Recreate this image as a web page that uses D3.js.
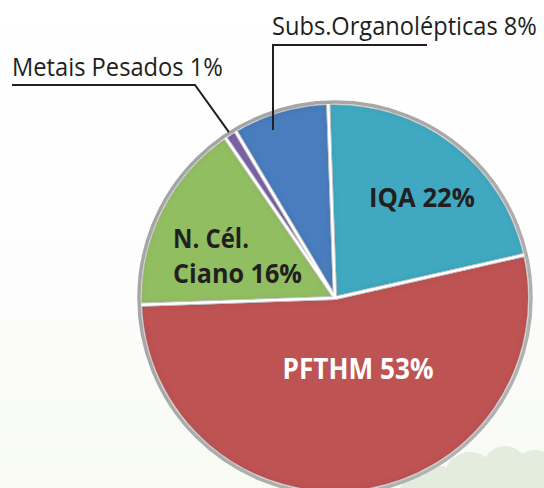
<!DOCTYPE html>
<html>
<head>
<meta charset="utf-8">
<script src="https://cdn.jsdelivr.net/npm/d3@7"></script>
<style>
  body { margin: 0; background: #fff; }
  svg { display: block; }
</style>
</head>
<body>
<svg width="544" height="488"></svg>
<script>
// data
const categories = ["IQA", "PFTHM", "N. Cél. Ciano", "Metais Pesados", "Subs.Organolépticas"]
const percents = [22, 53, 16, 1, 8]
const colours = ["#40a9c1", "#be5352", "#92be62", "#7a63a9", "#4a7dbd"]
const labelLines = [["IQA 22%"], ["PFTHM 53%"], ["N. Cél.", "Ciano 16%"], ["Metais Pesados 1%"], ["Subs.Organolépticas 8%"]]

const svg = d3.select("svg")
const W = 544, H = 488
const cx = 335, cy = 298, R = 195

const defs = svg.append("defs")

// background wash
const bg = defs.append("linearGradient").attr("id", "bg").attr("x1", 0).attr("y1", 0).attr("x2", 0).attr("y2", 1)
bg.append("stop").attr("offset", "0%").attr("stop-color", "#ffffff")
bg.append("stop").attr("offset", "60%").attr("stop-color", "#fcfdfc")
bg.append("stop").attr("offset", "100%").attr("stop-color", "#f8faf3")
svg.append("rect").attr("width", W).attr("height", H).attr("fill", "url(#bg)")

// bushes in the bottom right corner (decoration)
const bush = [[470, 478, 26], [505, 468, 22], [535, 474, 24], [440, 486, 20], [488, 492, 24], [418, 492, 18], [520, 490, 20]]
svg.append("g").selectAll("circle").data(bush).enter()
    .append("circle")
    .attr("cx", d => d[0]).attr("cy", d => d[1]).attr("r", d => d[2])
    .attr("fill", "#e3ecdd")

// inner shadow for the slices
const f = defs.append("filter").attr("id", "inner").attr("x", "-10%").attr("y", "-10%").attr("width", "120%").attr("height", "120%")
f.append("feFlood").attr("flood-color", "#000").attr("flood-opacity", 0.3).attr("result", "fl")
f.append("feComposite").attr("in", "fl").attr("in2", "SourceAlpha").attr("operator", "out").attr("result", "outside")
f.append("feGaussianBlur").attr("in", "outside").attr("stdDeviation", 3).attr("result", "blur")
f.append("feComposite").attr("in", "blur").attr("in2", "SourceAlpha").attr("operator", "in").attr("result", "shadow")
const m = f.append("feMerge")
m.append("feMergeNode").attr("in", "SourceGraphic")
m.append("feMergeNode").attr("in", "shadow")

const rim = defs.append("linearGradient").attr("id", "rim").attr("x1", 0).attr("y1", 0).attr("x2", 1).attr("y2", 1)
rim.append("stop").attr("offset", "0%").attr("stop-color", "#a2a2a2")
rim.append("stop").attr("offset", "100%").attr("stop-color", "#b4b4b4")

const pie = d3.pie().sort(null).startAngle(-2 * Math.PI / 180).endAngle(358 * Math.PI / 180).value(d => d)
const arcs = pie(percents)
const arc = d3.arc().innerRadius(0).outerRadius(R)

const g = svg.append("g").attr("transform", `translate(${cx},${cy})`)

g.selectAll("path.slice")
    .data(arcs).enter()
    .append("path")
    .attr("class", "slice")
    .attr("d", arc)
    .attr("fill", (d, i) => colours[i])
    .attr("filter", "url(#inner)")

// gaps between slices: grey edge with white core
g.selectAll("path.edge")
    .data(arcs).enter()
    .append("path")
    .attr("class", "edge")
    .attr("d", arc)
    .attr("fill", "none")
    .attr("stroke", "#c4c4c4")
    .attr("stroke-width", 4)
    .attr("stroke-linejoin", "round")
g.selectAll("path.gap")
    .data(arcs).enter()
    .append("path")
    .attr("class", "gap")
    .attr("d", arc)
    .attr("fill", "none")
    .attr("stroke", "#ffffff")
    .attr("stroke-width", 2)
    .attr("stroke-linejoin", "round")

// outer grey rim
g.append("circle").attr("r", R + 1).attr("fill", "none")
    .attr("stroke", "url(#rim)").attr("stroke-width", 3.5)

// squeeze a text horizontally so it spans the wanted width
function fitText(sel, x, y, width, anchor) {
    const natural = sel.node().getComputedTextLength()
    const sx = width / natural
    const ox = anchor === "middle" ? x : x + 0
    sel.attr("x", 0).attr("y", 0)
        .attr("transform", `translate(${ox},${y}) scale(${sx},1)`)
}

// labels inside the slices
const inside = [
    { i: 0, x: 422, y: 207, anchor: "middle", fill: "#231f20", size: 27, len: [106] },
    { i: 1, x: 358, y: 379, anchor: "middle", fill: "#ffffff", size: 28, len: [151] },
    { i: 2, x: 173, y: 248, anchor: "start", fill: "#231f20", size: 27, len: [76, 129], dy: 35 }
]
inside.forEach(l => {
    labelLines[l.i].forEach((t, k) => {
        const txt = svg.append("text")
            .attr("text-anchor", l.anchor)
            .attr("font-family", "'Open Sans', sans-serif")
            .attr("font-weight", "bold")
            .attr("font-size", l.size)
            .attr("fill", l.fill)
            .text(t)
        fitText(txt, l.x, l.y + k * (l.dy || 0), l.len[k], l.anchor)
    })
})

// outside labels with leader lines
const outside = [
    { i: 3, x: 12, y: 76, len: 211, lineY: 85, lineEnd: 195, frac: 0.5, rad: 1.01 },
    { i: 4, x: 272, y: 35, len: 265, lineY: 45, lineEnd: 427, frac: 0.36, rad: 0.92, vertical: true }
]
outside.forEach(l => {
    const a = arcs[l.i]
    const ang = a.startAngle + (a.endAngle - a.startAngle) * l.frac
    const px = cx + Math.sin(ang) * R * l.rad
    const py = cy - Math.cos(ang) * R * l.rad
    const startX = l.vertical ? l.x + 1 : l.x
    const pts = l.vertical
        ? [[l.lineEnd, l.lineY], [startX, l.lineY], [startX, py]]
        : [[startX, l.lineY], [l.lineEnd, l.lineY], [px, py]]
    svg.append("path")
        .attr("d", d3.line()(pts))
        .attr("fill", "none")
        .attr("stroke", "#231f20")
        .attr("stroke-width", 2)
    const txt = svg.append("text")
        .attr("font-family", "'Open Sans', sans-serif")
        .attr("font-size", 26)
        .attr("fill", "#231f20")
        .text(labelLines[l.i][0])
    fitText(txt, l.x, l.y, l.len, "start")
})
</script>
</body>
</html>
